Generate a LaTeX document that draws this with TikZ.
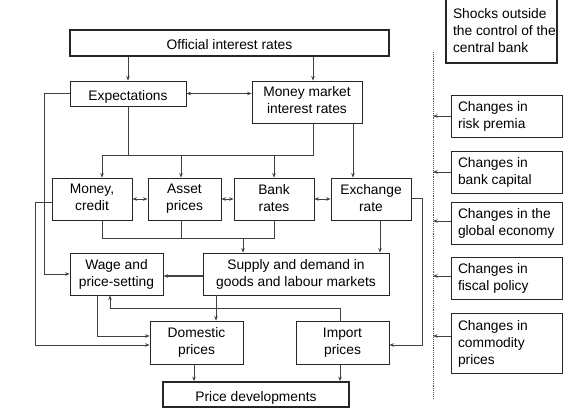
\documentclass[tikz,border=0pt]{standalone}
\usepackage{fontspec}
\setmainfont{Liberation Sans}
\usetikzlibrary{arrows.meta}
\newcommand{\sline}[1]{\makebox[97pt][l]{\rule[-3pt]{0pt}{14.5pt}#1}}
\begin{document}
\begin{tikzpicture}[x=1pt,y=-1pt,
  box/.style={draw=black!85,line width=0.9pt,align=center,inner sep=0pt,font=\fontsize{13.8}{17}\selectfont,execute at begin node={\rule{0pt}{17pt}},execute at end node={\rule[-3pt]{0pt}{3pt}}},
  bbox/.style={box,line width=1.8pt},
  sbox/.style={draw=black!85,line width=0.9pt,align=left,inner xsep=7pt,inner ysep=0pt,font=\fontsize{13.8}{17}\selectfont},
  line/.style={draw=black!75,line width=0.7pt},
  arr/.style={line,-{Stealth[length=4.5pt,width=3.5pt]}},
  darr/.style={line,{Stealth[length=4.5pt,width=3.5pt]}-{Stealth[length=4.5pt,width=3.5pt]}}]
\useasboundingbox (0,0) rectangle (578,417);
% main boxes
\node[bbox,minimum width=319pt,minimum height=26pt] (off) at (229.5,43) {Official interest rates};
\node[box,minimum width=116pt,minimum height=25pt] (exp) at (128,93.5) {Expectations};
\node[box,minimum width=110pt,minimum height=42pt] (mm) at (307,102) {Money market\\interest rates};
\node[box,minimum width=80pt,minimum height=42pt] (money) at (92,199) {Money,\\credit};
\node[box,minimum width=73pt,minimum height=42pt] (asset) at (184.5,199) {Asset\\prices};
\node[box,minimum width=80pt,minimum height=42pt] (bank) at (274,199) {Bank\\rates};
\node[box,minimum width=80pt,minimum height=42pt] (ex) at (371,199) {Exchange\\rate};
\node[box,minimum width=93pt,minimum height=42pt] (wage) at (116.5,274) {Wage and\\price-setting};
\node[box,minimum width=186pt,minimum height=42pt] (sup) at (296,274) {Supply and demand in\\goods and labour markets};
\node[box,minimum width=93pt,minimum height=43pt] (dom) at (196.5,342.5) {Domestic\\prices};
\node[box,minimum width=93pt,minimum height=43pt] (imp) at (342.5,342.5) {Import\\prices};
\node[bbox,minimum width=186pt,minimum height=25pt] (pd) at (256,394.5) {Price developments};
% right panel
\node[sbox,line width=1.8pt,inner xsep=7pt,minimum height=64pt] (shock) at (501.5,31) {\sline{Shocks outside}\\\sline{the control of the}\\\sline{central bank}};
\node[sbox,minimum height=42pt] (risk) at (506.5,116) {\sline{Changes in}\\\sline{risk premia}};
\node[sbox,minimum height=42pt] (bcap) at (506.5,172) {\sline{Changes in}\\\sline{bank capital}};
\node[sbox,minimum height=42pt] (glob) at (506.5,223) {\sline{Changes in the}\\\sline{global economy}};
\node[sbox,minimum height=42pt] (fisc) at (506.5,278) {\sline{Changes in}\\\sline{fiscal policy}};
\node[sbox,minimum height=60pt] (comm) at (506.5,343) {\sline{Changes in}\\\sline{commodity}\\\sline{prices}};
\coordinate (d1) at (433,52);
\coordinate (d2) at (433,398);
\draw[draw=black!70,line width=0.9pt,densely dotted] (d1) -- (d2);
\draw[arr] (risk.west) -- (risk.west -| d1);
\draw[arr] (bcap.west) -- (bcap.west -| d1);
\draw[arr] ([yshift=2pt]glob.west) -- ([yshift=2pt]glob.west -| d1);
\draw[arr] ([yshift=2pt]fisc.west) -- ([yshift=2pt]fisc.west -| d1);
\draw[arr] ([yshift=7pt]comm.west) -- ([yshift=7pt]comm.west -| d1);
% connectors
\draw[arr] (exp.north |- off.south) -- (exp.north);
\draw[arr] ([xshift=6pt]mm.north |- off.south) -- ([xshift=6pt]mm.north);
\draw[darr] (exp.east) -- (exp.east -| mm.west);
\coordinate (j1) at (102,155);
\coordinate (j2) at (313,155);
\draw[line] (exp.south) -- (exp.south |- j1);
\draw[line] (j1) -- (j2) -- ([xshift=6pt]mm.south);
\draw[arr] (j1) -- (j1 |- money.north);
\draw[arr] ([xshift=-3.5pt]asset.north |- j1) -- ([xshift=-3.5pt]asset.north);
\draw[arr] (bank.north |- j1) -- (bank.north);
\draw[arr] ([xshift=-18pt]ex.north |- mm.south) -- ([xshift=-18pt]ex.north);
\draw[darr] (money.east) -- (asset.west);
\draw[darr] (asset.east) -- (bank.west);
\draw[darr] (bank.east) -- (ex.west);
\coordinate (l1) at (44,0);
\draw[arr] (exp.west) -| (l1 |- wage.west) -- (wage.west);
\coordinate (l2) at (35,0);
\coordinate (domw2) at ([yshift=-2.5pt]dom.west);
\coordinate (domw1) at ([yshift=6.5pt]dom.west);
\coordinate (impe) at ([yshift=-2.5pt]imp.east);
\draw[arr] ([yshift=-3pt]money.west) -| (l2 |- domw2) -- (domw2);
\coordinate (r1) at (422,0);
\draw[arr] ([yshift=1pt]ex.east) -| (r1 |- impe) -- (impe);
\coordinate (j3) at (102,238);
\coordinate (j4) at (274,238);
\draw[line] ([xshift=10pt]money.south) |- (j4) -- (bank.south);
\draw[line] ([xshift=-3.5pt]asset.south) -- ([xshift=-3.5pt]asset.south |- j3);
\draw[arr] ([xshift=-53pt]sup.north |- j3) -- ([xshift=-53pt]sup.north);
\draw[arr] ([xshift=9pt]ex.south) -- ([xshift=9pt]ex.south |- sup.north);
\draw[arr,line width=1.3pt] ([yshift=-2pt]sup.west) -- ([yshift=-2pt]wage.east);
\draw[arr] ([xshift=-80pt]sup.south) -- ([xshift=-80pt]sup.south |- dom.north);
\draw[arr] ([xshift=-19.5pt]wage.south) |- (domw1);
\coordinate (j5) at (110,308);
\draw[arr] ([xshift=-2.5pt]imp.north) |- (j5) -- (j5 |- wage.south);
\draw[arr] ([xshift=-2.5pt]dom.south) -- ([xshift=-2.5pt]dom.south |- pd.north);
\draw[arr] ([xshift=-2.5pt]imp.south) -- ([xshift=-2.5pt]imp.south |- pd.north);
\end{tikzpicture}
\end{document}
